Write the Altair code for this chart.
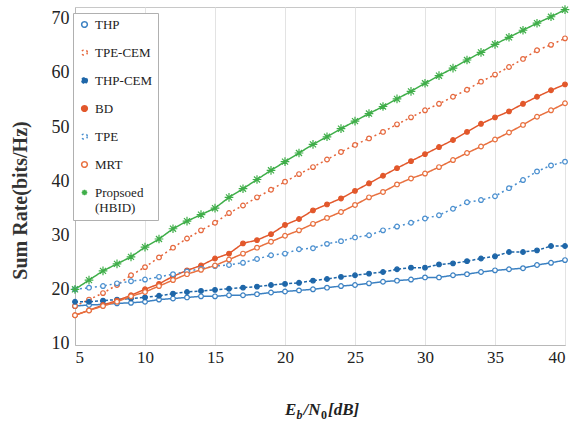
import altair as alt
import pandas as pd

snr_db = list(range(5, 41))
series = ["THP", "TPE-CEM", "THP-CEM", "BD", "TPE", "MRT", "Propsoed (HBID)"]

thp = [16.9, 17.1, 17.2, 17.4, 17.5, 17.7, 18.1, 18.3, 18.5, 18.7, 18.7, 18.9,
       18.9, 19.1, 19.4, 19.6, 19.8, 20.0, 20.3, 20.6, 20.8, 21.1, 21.4, 21.6,
       21.8, 22.2, 22.2, 22.6, 22.8, 23.2, 23.5, 23.7, 23.9, 24.5, 24.9, 25.4]
tpe_cem = [16.9, 18.1, 19.3, 20.8, 22.6, 24.1, 25.9, 27.7, 29.4, 30.9, 32.3, 34.1,
           35.5, 37.0, 38.4, 39.9, 41.3, 42.6, 44.0, 45.4, 46.7, 47.9, 49.1, 50.5,
           51.8, 53.1, 54.3, 55.6, 56.9, 58.4, 59.7, 61.1, 62.6, 64.2, 65.2, 66.4]
thp_cem = [17.7, 17.7, 17.9, 18.1, 18.3, 18.5, 18.8, 19.2, 19.5, 19.7, 19.9, 20.1,
           20.3, 20.5, 20.8, 21.0, 21.2, 21.6, 21.9, 22.3, 22.6, 22.9, 23.2, 23.7,
           24.0, 24.0, 24.6, 24.8, 25.2, 25.7, 26.1, 26.9, 26.9, 27.2, 28.0, 28.0]
bd = [15.2, 16.1, 17.1, 17.9, 18.9, 20.0, 21.0, 22.4, 23.5, 24.4, 25.7, 26.6,
      28.5, 29.1, 30.2, 31.9, 33.0, 34.6, 35.7, 36.8, 38.2, 39.6, 41.0, 42.4,
      43.7, 45.0, 46.3, 47.6, 49.1, 50.6, 51.8, 52.9, 54.3, 55.6, 56.8, 57.9]
tpe = [20.0, 20.3, 20.6, 21.1, 21.5, 21.8, 22.3, 22.8, 23.3, 23.8, 24.3, 24.5,
       24.9, 25.6, 26.3, 26.6, 27.4, 27.6, 28.4, 28.9, 29.6, 30.0, 30.9, 31.6,
       32.3, 33.1, 33.7, 34.9, 36.1, 36.5, 37.2, 38.7, 40.2, 41.8, 42.9, 43.6]
mrt = [15.2, 16.1, 16.9, 17.7, 18.7, 19.5, 20.6, 21.7, 22.8, 23.6, 24.4, 25.5,
       26.6, 27.7, 28.8, 29.9, 30.9, 32.1, 33.2, 34.3, 35.6, 37.0, 38.0, 39.4,
       40.5, 41.4, 42.6, 43.9, 45.2, 46.4, 47.7, 49.0, 50.4, 51.9, 53.1, 54.4]
proposed = [20.0, 21.7, 23.4, 24.7, 26.0, 27.8, 29.3, 31.2, 32.6, 33.8, 35.0, 37.0,
            38.6, 40.3, 42.0, 43.6, 45.2, 46.8, 48.2, 49.7, 51.1, 52.5, 53.8, 55.2,
            56.6, 58.1, 59.5, 60.9, 62.4, 63.8, 65.3, 66.6, 67.9, 69.2, 70.4, 71.7]

y_ticks = [10, 20, 30, 40, 50, 60, 70]
x_ticks = [5, 10, 15, 20, 25, 30, 35, 40]

values = dict(zip(series, [thp, tpe_cem, thp_cem, bd, tpe, mrt, proposed]))
rows = []
for name in series:
    for x, v in zip(snr_db, values[name]):
        rows.append({"snr": x, "rate": v, "series": name})
df = pd.DataFrame(rows)
PROP = series[-1]

SERIF = "Liberation Serif"
stroke_colors = ["#3a80c2", "#e5673c", "#1f67a9", "#e2582c", "#4a8fcf", "#e8703f", "#3fae49"]
fill_colors = ["white", "white", "#1f67a9", "#e2582c", "white", "white", "#3fae49"]
asterisk = "M-1,0L1,0M0,-1L0,1M-0.7,-0.7L0.7,0.7M-0.7,0.7L0.7,-0.7"
shapes = ["circle"] * 6 + [asterisk]
dashes = [[1, 0], [2, 3], [3, 2], [1, 0], [2, 3], [1, 0], [1, 0]]
widths = [1.5, 1.5, 1.5, 1.5, 1.5, 1.5, 1.1]

leg = alt.Legend(
    title=None, orient="none", legendX=-2, legendY=6,
    fillColor="white", strokeColor="#b0b0b0", padding=5,
    labelFont=SERIF, labelFontSize=13, labelColor="#222", labelOffset=4,
    symbolStrokeWidth=1.3, symbolSize=32, rowPadding=14,
    labelExpr="datum.label == 'Propsoed (HBID)' ? ['Propsoed', '\u00a0\u00a0(HBID)'] : datum.label",
)

x_enc = alt.X("snr:Q", scale=alt.Scale(domain=[5, 40], nice=False),
              axis=alt.Axis(values=x_ticks, title=None, grid=True, gridColor="#e3e3e3",
                            ticks=False, labelFont=SERIF, labelFontSize=17,
                            labelColor="#222", labelPadding=4))
y_enc = alt.Y("rate:Q", scale=alt.Scale(domain=[9.7, 72.2], nice=False, zero=False),
              axis=alt.Axis(values=y_ticks, grid=False, ticks=False,
                            title="Sum Rate(bits/Hz)", titleFont=SERIF, titleFontSize=20,
                            titleFontWeight="bold", titleColor="#333",
                            titleX=-55, titleY=193, titleAlign="center",
                            titleBaseline="middle",
                            labelFont=SERIF, labelFontSize=18, labelColor="#222",
                            labelPadding=6))

base = alt.Chart(df)
lines = base.mark_line().encode(
    x=x_enc, y=y_enc,
    stroke=alt.Stroke("series:N", scale=alt.Scale(domain=series, range=stroke_colors), legend=leg),
    strokeDash=alt.StrokeDash("series:N", scale=alt.Scale(domain=series, range=dashes), legend=None),
    strokeWidth=alt.StrokeWidth("series:N", scale=alt.Scale(domain=series, range=widths), legend=None),
)
points = base.transform_filter(alt.datum.series != PROP).mark_point(
    filled=True, strokeWidth=1.2, opacity=1, size=22
).encode(
    x=x_enc, y=y_enc,
    stroke=alt.Stroke("series:N", scale=alt.Scale(domain=series, range=stroke_colors), legend=leg),
    fill=alt.Fill("series:N", scale=alt.Scale(domain=series, range=fill_colors), legend=leg),
    shape=alt.Shape("series:N", scale=alt.Scale(domain=series, range=shapes), legend=leg),
)
stars = base.transform_filter(alt.datum.series == PROP).mark_point(
    shape=asterisk, size=75, strokeWidth=1.2, filled=False, color="#3fae49", opacity=1
).encode(x=x_enc, y=y_enc)


def piece(text, x, y, size, italic=True):
    return alt.Chart(pd.DataFrame({"t": [text]})).mark_text(
        align="left", baseline="alphabetic", font=SERIF, fontSize=size,
        fontStyle="italic" if italic else "normal", fontWeight="bold", color="#222",
    ).encode(x=alt.value(x), y=alt.value(y), text="t:N")


title_parts = [
    piece("E", 210, 408, 17),
    piece("b", 221.5, 412, 12),
    piece("/N", 228.5, 408, 17),
    piece("0", 246, 412, 12, italic=False),
    piece("[dB]", 253, 408, 17),
]

chart = alt.layer(lines, points, stars, *title_parts).properties(
    width=490, height=338,
    padding={"left": 75, "top": 7, "right": 13, "bottom": 76},
    autosize=alt.AutoSizeParams(type="none"),
).configure_view(stroke="#c8c8c8").configure_axis(
    labelFont=SERIF, titleFont=SERIF, domainColor="#b8b8b8",
)

chart.save("out.html", embed_options={"renderer": "svg", "actions": False})
